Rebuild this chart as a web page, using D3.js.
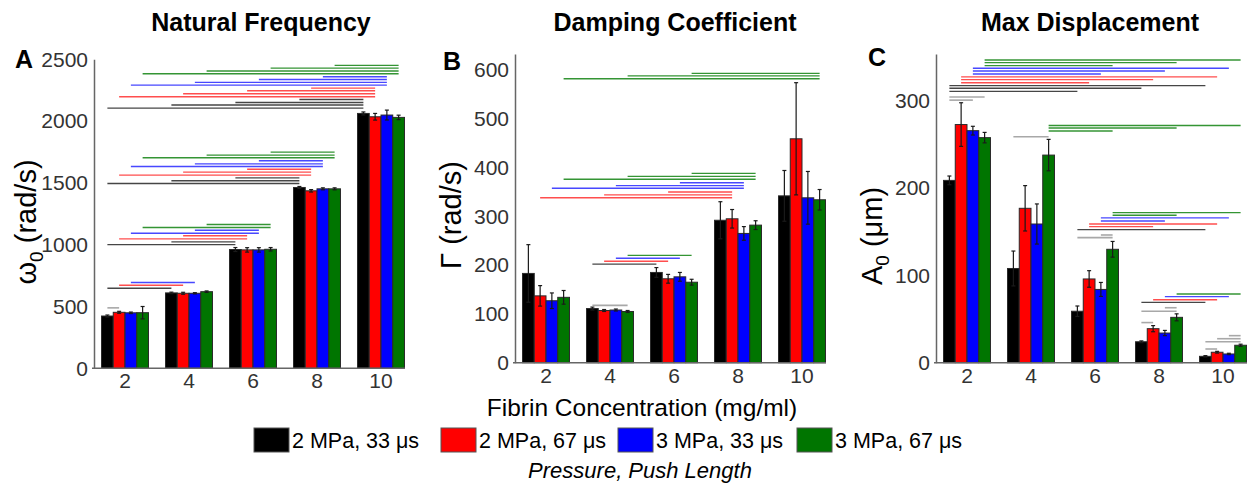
<!DOCTYPE html>
<html><head><meta charset="utf-8">
<script src="https://cdn.jsdelivr.net/npm/d3@7"></script>
<style>body{margin:0;background:#fff}svg{display:block}</style>
</head><body>
<svg id="chart" width="1250" height="485"></svg>
<script>
// ---------- data ----------
const categories = ["2", "4", "6", "8", "10"];
const seriesNames = ["2 MPa, 33 μs", "2 MPa, 67 μs", "3 MPa, 33 μs", "3 MPa, 67 μs"];
const seriesColors = ["#000000", "#ff0000", "#0000ff", "#007500"];
const sigColors = ["#333333", "#ff3b3b", "#3535ff", "#1f8a1f"];

// Panel A: natural frequency (rad/s)
const freqTicks = [0, 500, 1000, 1500, 2000, 2500];
const freqBlack = [423, 610, 961, 1463, 2062];
const freqRed   = [453, 607, 958, 1436, 2035];
const freqBlue  = [449, 607, 958, 1452, 2049];
const freqGreen = [450, 620, 963, 1452, 2030];
const freqErrBlack = [8, 6, 16, 8, 12];
const freqErrRed   = [8, 8, 18, 10, 27];
const freqErrBlue  = [6, 5, 18, 8, 40];
const freqErrGreen = [50, 6, 14, 8, 18];
// [series, fromCategory, toCategory, level]
const freqAcross = [
  [3,3,4,2451],[3,2,4,2429],[3,1,4,2405],[3,0,4,2383],
  [2,3,4,2359],[2,2,4,2337],[2,1,4,2313],[2,0,4,2291],
  [1,3,4,2267],[1,2,4,2246],[1,1,4,2221],[1,0,4,2197],
  [0,3,4,2175],[0,2,4,2151],[0,1,4,2130],[0,0,4,2105],
  [3,2,3,1749],[3,1,3,1725],[3,0,3,1703],
  [2,2,3,1679],[2,1,3,1654],[2,0,3,1633],
  [1,2,3,1611],[1,1,3,1587],[1,0,3,1563],
  [0,2,3,1541],[0,1,3,1517],[0,0,3,1495],
  [3,1,2,1163],[3,0,2,1139],
  [2,1,2,1117],[2,0,2,1093],
  [1,1,2,1072],[1,0,2,1047],
  [0,1,2,1023],[0,0,2,1001],
  [2,0,1,694],[1,0,1,672],[0,0,1,648]
];
// [category, fromSeries, toSeries, level]
const freqWithin = [[0,0,1,489]];

// Panel B: damping coefficient (rad/s)
const dampTicks = [0, 100, 200, 300, 400, 500, 600];
const dampBlack = [183, 111, 185, 292, 342];
const dampRed   = [137, 107, 172, 295, 459];
const dampBlue  = [127, 108, 176, 265, 338];
const dampGreen = [134, 105, 165, 282, 334];
const dampErrBlack = [59, 3, 10, 38, 52];
const dampErrRed   = [21, 2, 9, 19, 115];
const dampErrBlue  = [16, 2, 9, 14, 54];
const dampErrGreen = [14, 2, 6, 9, 21];
const dampAcross = [
  [3,2,4,593],[3,1,4,588],[3,0,4,582],
  [3,2,3,388],[3,1,3,382],[3,0,3,376],
  [2,2,3,369],[2,1,3,363],[2,0,3,357.5],
  [1,2,3,350],[1,1,3,344],[1,0,3,338],
  [3,1,2,220],[2,1,2,214],[1,1,2,208],[0,1,2,202]
];
const dampWithin = [[1,0,3,117.6]];

// Panel C: max displacement (µm)
const dispTicks = [0, 100, 200, 300];
const dispBlack = [209, 108, 59, 24, 7.3];
const dispRed   = [273, 177, 96, 39, 12];
const dispBlue  = [266, 159, 84, 34, 10];
const dispGreen = [258, 238, 130, 52, 20];
const dispErrBlack = [5, 20, 6, 1, 0.8];
const dispErrRed   = [25, 26, 9.5, 3.5, 1];
const dispErrBlue  = [5, 23, 8, 3, 0.8];
const dispErrGreen = [6, 18, 9, 4, 1.2];
const dispAcross = [
  [3,0,4,347],[3,0,3,344],[3,0,2,340.6],
  [2,0,4,337.5],[2,0,3,334.4],[2,0,2,331],
  [1,0,4,327.6],[1,0,3,324.5],[1,0,2,321],
  [0,0,4,317.6],[0,0,3,314.6],[0,0,2,311],
  [3,1,4,272],[3,1,3,269],[3,1,2,265.6],
  [3,2,4,172],[3,2,3,169],[2,2,4,166],[2,2,3,162.5],[1,2,4,159],[1,2,3,156],[0,2,4,152.5],
  [3,3,4,78.8],[2,3,4,75.7],[1,3,4,72.2],[0,3,4,69.2]
];
const dispWithin = [
  [0,0,3,304.6],[0,0,2,301],
  [1,0,3,259],
  [2,2,3,146.4],[2,0,3,143.4],
  [3,2,3,63],[3,0,3,59],[3,0,1,46],
  [4,2,3,31],[4,1,3,27.5],[4,0,3,24],[4,0,1,15.7]
];

// ---------- layout ----------
const FONT = "'Liberation Sans', Arial, Helvetica, sans-serif";
const svg = d3.select("#chart");

const panels = [
  {letter:"A", title:"Natural Frequency", axisX:94, y0:368.3, yTop:59.3, domMax:2500, ticks:freqTicks,
   means:[freqBlack,freqRed,freqBlue,freqGreen], errs:[freqErrBlack,freqErrRed,freqErrBlue,freqErrGreen],
   across:freqAcross, within:freqWithin, ylab:["ω","0"," (rad/s)"], letterPos:[24,68], titleX:261, ylabX:36, ylabY:222},
  {letter:"B", title:"Damping Coefficient", axisX:515, y0:362.7, yTop:54, domMax:600*(362.7-54)/(362.7-70), ticks:dampTicks,
   means:[dampBlack,dampRed,dampBlue,dampGreen], errs:[dampErrBlack,dampErrRed,dampErrBlue,dampErrGreen],
   across:dampAcross, within:dampWithin, ylab:["Γ","",  " (rad/s)"], letterPos:[452,70], titleX:675, ylabX:461, ylabY:215},
  {letter:"C", title:"Max Displacement", axisX:936, y0:362.7, yTop:54, domMax:(362.7-54)/((362.7-101)/300), ticks:dispTicks,
   means:[dispBlack,dispRed,dispBlue,dispGreen], errs:[dispErrBlack,dispErrRed,dispErrBlue,dispErrGreen],
   across:dispAcross, within:dispWithin, ylab:["A","0"," (μm)"], letterPos:[877,66], titleX:1090, ylabX:882, ylabY:236}
];

panels.forEach(p => {
  const g = svg.append("g");
  const x = d3.scaleBand().domain(categories).range([p.axisX - 1, p.axisX + 319])
    .paddingInner(0.266).paddingOuter(0.133);
  const xs = d3.scaleBand().domain(d3.range(4)).range([0, x.bandwidth()]);
  const y = d3.scaleLinear().domain([0, p.domMax]).range([p.y0, p.yTop]);
  const cx = (cat, s) => x(categories[cat]) + xs(s) + xs.bandwidth() / 2;

  // title & letter
  g.append("text").attr("x", p.titleX).attr("y", 31).attr("text-anchor", "middle")
    .attr("font-family", FONT).attr("font-weight", "bold").attr("font-size", 25).attr("fill", "#000")
    .text(p.title);
  g.append("text").attr("x", p.letterPos[0]).attr("y", p.letterPos[1]).attr("text-anchor", "middle")
    .attr("font-family", FONT).attr("font-weight", "bold").attr("font-size", 25).attr("fill", "#000")
    .text(p.letter);

  // bars
  p.means.forEach((vals, s) => {
    g.append("g").selectAll("rect").data(vals).join("rect")
      .attr("x", (d, i) => x(categories[i]) + xs(s))
      .attr("width", xs.bandwidth())
      .attr("y", d => y(d))
      .attr("height", d => y(0) - y(d))
      .attr("fill", seriesColors[s])
      .attr("stroke", "#2a2a2a").attr("stroke-width", 1);
  });
  // error bars
  p.means.forEach((vals, s) => {
    const eg = g.append("g").attr("stroke", "#1a1a1a").attr("stroke-width", 1.2);
    vals.forEach((d, i) => {
      const e = p.errs[s][i];
      const c = cx(i, s);
      eg.append("line").attr("x1", c).attr("x2", c).attr("y1", y(d - e)).attr("y2", y(d + e));
      eg.append("line").attr("x1", c - 2).attr("x2", c + 2).attr("y1", y(d - e)).attr("y2", y(d - e));
      eg.append("line").attr("x1", c - 2).attr("x2", c + 2).attr("y1", y(d + e)).attr("y2", y(d + e));
    });
  });

  // significance lines across concentrations
  g.append("g").selectAll("line").data(p.across).join("line")
    .attr("x1", d => cx(d[1], d[0])).attr("x2", d => cx(d[2], d[0]))
    .attr("y1", d => y(d[3])).attr("y2", d => y(d[3]))
    .attr("stroke", d => sigColors[d[0]]).attr("stroke-width", 1.4).attr("opacity", 0.9);
  // within concentration
  g.append("g").selectAll("line").data(p.within).join("line")
    .attr("x1", d => cx(d[0], d[1])).attr("x2", d => cx(d[0], d[2]))
    .attr("y1", d => y(d[3])).attr("y2", d => y(d[3]))
    .attr("stroke", "#a8a8a8").attr("stroke-width", 1.6);

  // axes
  const ya = g.append("g").attr("transform", `translate(${p.axisX},0)`)
    .call(d3.axisLeft(y).tickValues(p.ticks).tickSize(0).tickPadding(6).tickFormat(d3.format("d")));
  ya.select(".domain").attr("stroke", "#666").attr("stroke-width", 1.5);
  ya.selectAll("text").attr("font-family", FONT).attr("font-size", 21).attr("fill", "#333");
  const xa = g.append("g").attr("transform", `translate(0,${p.y0})`)
    .call(d3.axisBottom(x).tickSize(0).tickPadding(5));
  xa.select(".domain").remove();
  xa.selectAll("text").attr("font-family", FONT).attr("font-size", 21).attr("fill", "#333");
  g.append("line").attr("x1", p.axisX - 2).attr("x2", p.axisX + 311)
    .attr("y1", p.y0).attr("y2", p.y0).attr("stroke", "#666").attr("stroke-width", 1.5);

  // y label
  const yl = g.append("text").attr("transform", `translate(${p.ylabX},${p.ylabY}) rotate(-90)`)
    .attr("text-anchor", "middle").attr("font-family", FONT).attr("font-size", 29).attr("fill", "#000");
  yl.append("tspan").text(p.ylab[0]);
  if (p.ylab[1]) yl.append("tspan").attr("font-size", 19).attr("dy", 7).text(p.ylab[1]);
  yl.append("tspan").attr("dy", p.ylab[1] ? -7 : 0).text(p.ylab[2]);
});

// x title
svg.append("text").attr("x", 642).attr("y", 416).attr("text-anchor", "middle")
  .attr("font-family", FONT).attr("font-size", 24.5).attr("fill", "#000")
  .text("Fibrin Concentration (mg/ml)");

// legend
const legendX = [254, 441, 618, 797];
const lg = svg.append("g");
seriesNames.forEach((n, i) => {
  lg.append("rect").attr("x", legendX[i]).attr("y", 428).attr("width", 35).attr("height", 24)
    .attr("fill", seriesColors[i]).attr("stroke", "#555").attr("stroke-width", 1);
  lg.append("text").attr("x", legendX[i] + 38).attr("y", 448).attr("font-family", FONT)
    .attr("font-size", 21.5).attr("fill", "#000").text(n);
});
svg.append("text").attr("x", 640).attr("y", 478).attr("text-anchor", "middle")
  .attr("font-family", FONT).attr("font-style", "italic").attr("font-size", 22).attr("fill", "#000")
  .text("Pressure, Push Length");
</script>
</body></html>
